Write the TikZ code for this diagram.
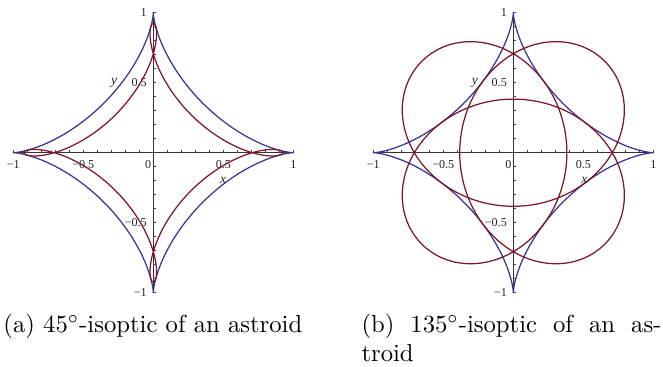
\documentclass[tikz,border=0pt]{standalone}
\usepackage{fontspec}
\newfontfamily\maplefont{Liberation Serif}
\definecolor{mred}{HTML}{7E1428}
\definecolor{mblue}{HTML}{34349A}
\newcommand\plotaxes[1]{%
  \draw[axisline] (-1,0) coordinate (#1xl) -- (1,0) coordinate (#1xr);
  \draw[axisline] (0,-1) coordinate (#1yb) -- (0,1) coordinate (#1yt);
  \foreach \i in {-10,...,10}{%
    \draw[tickmark] (\i/10,0) -- ++(0pt,1.25pt);
    \draw[tickmark] (0,\i/10) -- ++(1.25pt,0pt);
  }
  \node[ticklab] (#1xm1) at (-1,-0.083) {−1};
  \node[ticklab] (#1xmh) at (-0.5,-0.083) {−0.5};
  \node[ticklab] (#1xz) at (-0.036,-0.083) {0};
  \node[ticklab] (#1xph) at (0.5,-0.083) {0.5};
  \node[ticklab] (#1xp1) at (1,-0.083) {1};
  \node[ticklab,anchor=east] (#1yp1) at (-0.043,1) {1};
  \node[ticklab,anchor=east] (#1yph) at (-0.043,0.5) {0.5};
  \node[ticklab,anchor=east] (#1ymh) at (-0.043,-0.5) {−0.5};
  \node[ticklab,anchor=east] (#1ym1) at (-0.043,-1) {−1};
}
\newcommand\astroidcurve{%
  \draw[astroidline] plot[domain=0:360, samples=721, variable=\t]
    ({cos(\t)*cos(\t)*cos(\t)},{sin(\t)*sin(\t)*sin(\t)}) -- cycle;
}
\newcommand\isopticcurve[1]{%
  \draw[isopticline] plot[domain=0:360, samples=1441, variable=\t]
    ({(sin(2*\t)*sin(\t+#1) - sin(2*\t+2*#1)*sin(\t))/(2*sin(#1))},
     {(sin(2*\t+2*#1)*cos(\t) - sin(2*\t)*cos(\t+#1))/(2*sin(#1))}) -- cycle;
}
\begin{document}
\begin{tikzpicture}[x=0.4054pt,y=-0.4054pt,
  axisline/.style={line width=0.45pt, draw=black!80},
  tickmark/.style={line width=0.4pt, draw=black!75},
  ticklab/.style={font=\maplefont\fontsize{4.9}{5}\selectfont, inner sep=0pt, text=black!85},
  axlab/.style={font=\maplefont\itshape\fontsize{5.5}{6}\selectfont, inner sep=0pt, text=black!85},
  astroidline/.style={draw=mblue, line width=0.5pt, line join=round},
  isopticline/.style={draw=mred, line width=0.5pt, line join=round},
  capt/.style={inner sep=0pt, anchor=base west}]
\useasboundingbox (0,0) rectangle (663,366);
% left plot
\begin{scope}[shift={(153.3,152.7)}, x=56.76pt, y=56.76pt]
  \plotaxes{a}
  \astroidcurve
  \isopticcurve{45}
  \node[axlab] (ay) at (-0.279,0.498) {y};
  \node[axlab] (ax) at (0.498,-0.195) {x};
\end{scope}
% right plot
\begin{scope}[shift={(513.3,152.7)}, x=56.76pt, y=56.76pt]
  \plotaxes{b}
  \astroidcurve
  \isopticcurve{135}
  \node[axlab] (by) at (-0.274,0.496) {y};
  \node[axlab] (bx) at (0.507,-0.195) {x};
\end{scope}
% captions
\node[capt] (capa) at (3,332) {(a) $45^\circ$-isoptic of an astroid};
\node[capt] (capb) at (361,332) {\makebox[121.6pt][s]{(b) $135^\circ$-isoptic of an as-}};
\node[capt] (capc) at (361,361.7) {troid};
\end{tikzpicture}
\end{document}
